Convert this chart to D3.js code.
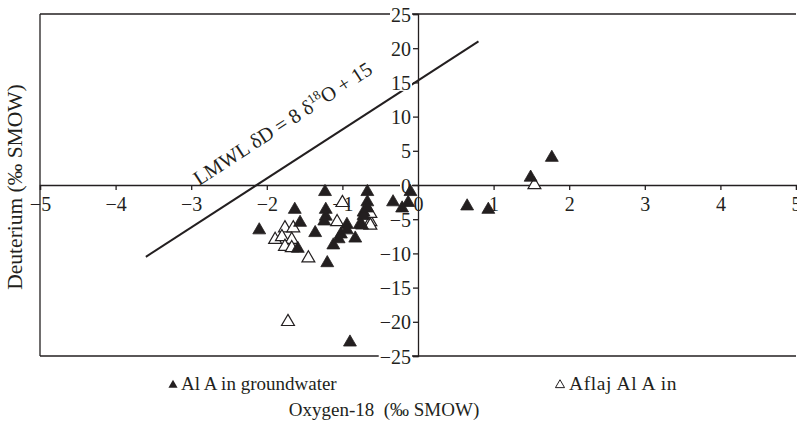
<!DOCTYPE html>
<html><head><meta charset="utf-8">
<script src="https://cdn.jsdelivr.net/npm/d3@7"></script>
<style>body{margin:0;background:#fff}svg{display:block}text{font-family:"Liberation Serif","Times New Roman",serif;fill:#231f20}</style>
</head><body><svg id="c" width="797" height="423"></svg>
<script>
// Data
const xTicks = [-5,-4,-3,-2,-1,0,1,2,3,4,5];
const yTicks = [-25,-20,-15,-10,-5,0,5,10,15,20,25];
const groundwaterX = [-2.1,-1.63,-1.56,-1.59,-1.36,-1.23,-1.22,-1.22,-1.24,-1.2,-1.12,-1.05,-1.02,-0.94,-0.94,-0.83,-0.77,-0.72,-0.72,-0.67,-0.67,-0.67,-0.74,-0.33,-0.21,-0.13,-0.1,-0.9,0.65,0.93,1.49,1.77];
const groundwaterY = [-6.6,-3.6,-5.5,-9.3,-7.0,-1.0,-3.6,-4.6,-5.3,-11.4,-8.8,-7.9,-7.2,-5.8,-6.6,-7.8,-5.8,-4.0,-4.5,-1.0,-2.5,-3.4,-5.9,-2.5,-3.4,-2.6,-1.0,-23.0,-3.1,-3.6,1.1,4.0];
const aflajX = [-1.76,-1.65,-1.89,-1.8,-1.67,-1.76,-1.67,-1.45,-1.72,-1.0,-1.07,-0.63,-0.63,-0.63,1.54];
const aflajY = [-6.3,-6.3,-8.0,-7.6,-8.0,-9.0,-9.2,-10.7,-20.0,-2.6,-5.4,-5.4,-4.2,-5.9,0.0];
const lmwlX = [-3.6,0.8];
const lmwlY = [-10.5,21];
const seriesNames = ["Al A in groundwater","Aflaj Al A in"];

const svg = d3.select("#c");
const x = d3.scaleLinear().domain([-5,5]).range([40,796]);
const y = d3.scaleLinear().domain([-25,25]).range([356,14]);
const ink = "#231f20";
const fmt = d => d < 0 ? "\u2212" + Math.abs(d) : String(d);

// plot border (left, top, bottom)
svg.append("line").attr("x1",x(-5)).attr("x2",x(-5)).attr("y1",y(25)).attr("y2",y(-25)).attr("stroke",ink).attr("stroke-width",1.3);
svg.append("line").attr("x1",x(-5)).attr("x2",x(5)).attr("y1",y(25)).attr("y2",y(25)).attr("stroke",ink).attr("stroke-width",1.3);
svg.append("line").attr("x1",x(-5)).attr("x2",x(5)).attr("y1",y(-25)).attr("y2",y(-25)).attr("stroke",ink).attr("stroke-width",1.3);

// x axis at y=0
const xAxis = d3.axisBottom(x).tickValues(xTicks).tickSize(5).tickPadding(7).tickFormat(fmt);
const gx = svg.append("g").attr("transform",`translate(0,${y(0)})`).call(xAxis);
gx.select(".domain").attr("stroke",ink).attr("stroke-width",1.3);
gx.selectAll(".tick line").attr("stroke",ink).attr("stroke-width",1.3);
gx.selectAll(".tick text").attr("font-size",20).attr("font-family","Liberation Serif").attr("fill",ink);

// LMWL line
svg.append("line").attr("x1",x(lmwlX[0])).attr("y1",y(lmwlY[0])).attr("x2",x(lmwlX[1])).attr("y2",y(lmwlY[1]))
  .attr("stroke",ink).attr("stroke-width",2);
const ang = Math.atan2(y(lmwlY[1])-y(lmwlY[0]), x(lmwlX[1])-x(lmwlX[0]))*180/Math.PI;
const lt = svg.append("text").attr("transform",`translate(199,186) rotate(${ang})`).attr("font-size",20.5);
lt.append("tspan").text("LMWL \u03b4D = 8 \u03b4");
lt.append("tspan").attr("font-size",13).attr("dy",-8).text("18");
lt.append("tspan").attr("dy",8).text("O + 15");

// y axis at x=0
const yAxis = d3.axisLeft(y).tickValues(yTicks).tickSize(5).tickPadding(2).tickFormat(fmt);
const gy = svg.append("g").attr("transform",`translate(${x(0)},0)`).call(yAxis);
gy.select(".domain").attr("stroke",ink).attr("stroke-width",1.3);
gy.selectAll(".tick line").attr("stroke",ink).attr("stroke-width",1.3);
gy.selectAll(".tick text").attr("font-size",20).attr("font-family","Liberation Serif").attr("fill",ink).attr("dy","0.35em");
gy.selectAll(".tick").each(function(){
  const t = d3.select(this).select("text");
  const b = t.node().getBBox();
  d3.select(this).insert("rect","text").attr("x",b.x-1).attr("y",b.y+3).attr("width",b.width+2).attr("height",b.height-6).attr("fill","#fff");
});

// points
const tri = d3.symbol().type(d3.symbolTriangle).size(72);
svg.append("g").selectAll("path").data(aflajX.map((v,i)=>[v,aflajY[i]])).join("path")
  .attr("d",tri).attr("transform",d=>`translate(${x(d[0])},${y(d[1])})`)
  .attr("fill","#fff").attr("stroke",ink).attr("stroke-width",1.2);
svg.append("g").selectAll("path").data(groundwaterX.map((v,i)=>[v,groundwaterY[i]])).join("path")
  .attr("d",tri).attr("transform",d=>`translate(${x(d[0])},${y(d[1])})`)
  .attr("fill",ink).attr("stroke",ink).attr("stroke-width",0.8);

// legend
const small = d3.symbol().type(d3.symbolTriangle).size(36);
svg.append("path").attr("d",small).attr("transform","translate(173,385)").attr("fill",ink);
svg.append("text").attr("x",181).attr("y",390).attr("font-size",19).text(seriesNames[0]);
svg.append("path").attr("d",small).attr("transform","translate(560,385)").attr("fill","#fff").attr("stroke",ink).attr("stroke-width",1);
svg.append("text").attr("x",569).attr("y",390).attr("font-size",19.5).attr("letter-spacing",0.6).text(seriesNames[1]);

// axis titles
svg.append("text").attr("x",384).attr("y",416).attr("text-anchor","middle").attr("font-size",19).attr("xml:space","preserve").text("Oxygen-18  (\u2030 SMOW)");
svg.append("text").attr("transform","translate(22,187) rotate(-90)").attr("text-anchor","middle").attr("font-size",21.5).text("Deuterium (\u2030 SMOW)");
</script></body></html>
